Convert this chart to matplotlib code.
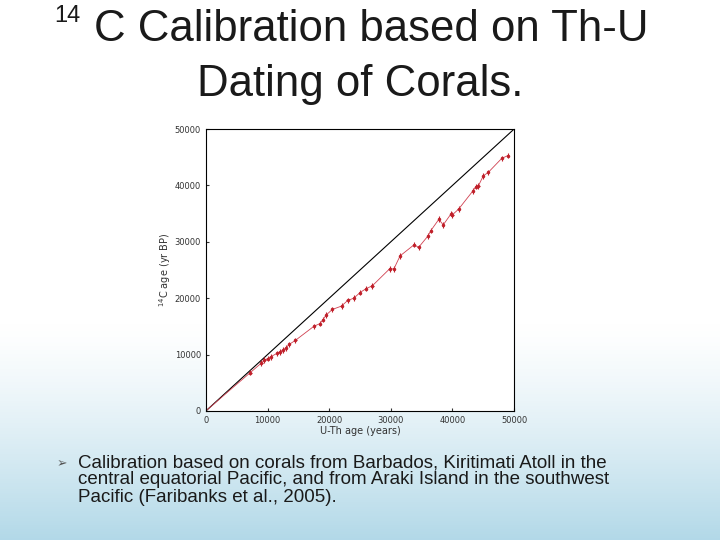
import numpy as np
import matplotlib
matplotlib.use("Agg")
import matplotlib.pyplot as plt

# U-Th age vs 14C age
uth_age = [0, 2000, 4000, 7200, 9000, 9500, 10000, 10500, 11500, 12000, 12500, 13000,
           13500, 14500, 17500, 18500, 19000, 19500, 20500, 22000, 23000, 24000,
           25000, 26000, 27000, 29800, 30500, 31500, 33800, 34500, 36000, 36500,
           37800, 38500, 39800, 40000, 41000, 43300, 43800, 44200, 45000, 45800,
           48000, 49000]
c14_age = [0, 1900, 3800, 6800, 8500, 9000, 9300, 9600, 10200, 10500, 10800, 11200,
           11800, 12500, 15000, 15500, 16200, 17000, 18000, 18600, 19600, 20000,
           21000, 21700, 22200, 25200, 25200, 27500, 29500, 29000, 31000, 32000,
           34000, 33000, 35000, 34800, 35800, 39000, 39800, 39900, 41700, 42300,
           44800, 45300]
ticks = [0, 10000, 20000, 30000, 40000, 50000]

fig = plt.figure(figsize=(7.2, 5.4), dpi=100)

# slide background: white fading to pale blue at the bottom
bg = fig.add_axes([0, 0, 1, 1])
t = np.linspace(0, 1, 256)
grad = np.clip((t - 0.6) / 0.4, 0, 1).reshape(-1, 1) ** 1.3
top = np.array([1.0, 1.0, 1.0])
bottom = np.array([0.70, 0.85, 0.91])
img = top + (bottom - top) * grad[..., None]
bg.imshow(img, aspect="auto", extent=[0, 1, 0, 1], origin="upper")
bg.set_axis_off()

title_kw = dict(color="#1a1a1a", family="Liberation Sans")
fig.text(0.076, 0.99, "14", fontsize=17, va="top", **title_kw)
fig.text(0.13, 0.945, "C Calibration based on Th-U", fontsize=31.5, va="center", **title_kw)
fig.text(0.5, 0.843, "Dating of Corals.", fontsize=31.5, va="center", ha="center", **title_kw)

ax = fig.add_axes([0.286, 0.239, 0.428, 0.522])
ax.set_facecolor("white")
ax.plot([0, 50000], [0, 50000], color="black", lw=0.8)
ax.errorbar(uth_age[3:], c14_age[3:], yerr=500, xerr=200, fmt=".", color="#c0202a",
            ms=3, lw=0.8, capsize=0)
ax.plot(uth_age, c14_age, color="#d04050", lw=0.6)
ax.set_xlim(0, 50000)
ax.set_ylim(0, 50000)
ax.set_xticks(ticks)
ax.set_yticks(ticks)
ax.tick_params(labelsize=6, length=2, direction="in", colors="#333333")
ax.set_xlabel("U-Th age (years)", fontsize=7, labelpad=1, color="#333333")
ax.set_ylabel("$^{14}$C age (yr BP)", fontsize=7, labelpad=1, color="#333333")

fig.text(0.078, 0.141, "\u27a2", fontsize=9, color="#555555", va="center", family="DejaVu Sans")
fig.text(0.108, 0.159, "Calibration based on corals from Barbados, Kiritimati Atoll in the\n"
         "central equatorial Pacific, and from Araki Island in the southwest\n"
         "Pacific (Faribanks et al., 2005).", fontsize=13.5, va="top", ha="left",
         color="#1a1a1a", linespacing=1.02, family="Liberation Sans")

fig.savefig("out.png", dpi=100)
